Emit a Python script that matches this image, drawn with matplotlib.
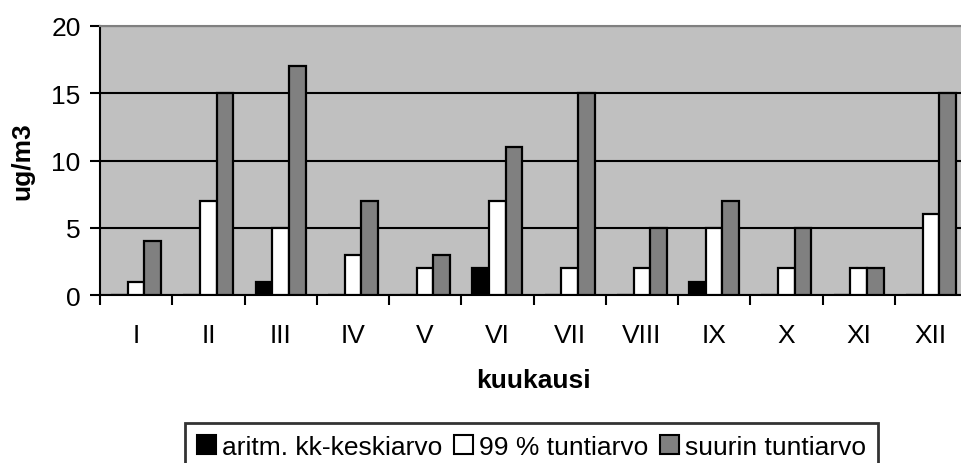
import matplotlib.pyplot as plt
import numpy as np

plt.rcParams["font.family"] = ["Liberation Sans", "DejaVu Sans"]

months = ["I", "II", "III", "IV", "V", "VI", "VII", "VIII", "IX", "X", "XI", "XII"]
kk_keskiarvo = [0, 0, 1, 0, 0, 2, 0, 0, 1, 0, 0, 0]
tunti_99 = [1, 7, 5, 3, 2, 7, 2, 2, 5, 2, 2, 6]
suurin = [4, 15, 17, 7, 3, 11, 15, 5, 7, 5, 2, 15]

W, H = 961, 464
FS = 19
fig = plt.figure(figsize=(W / 100, H / 100), dpi=100)
ax = fig.add_axes([100 / W, 168 / H, 867 / W, 269 / H])
ax.set_facecolor("#C0C0C0")

x = np.arange(len(months))
bw = 0.23
series = [
    (kk_keskiarvo, "black", "aritm. kk-keskiarvo"),
    (tunti_99, "white", "99 % tuntiarvo"),
    (suurin, "#808080", "suurin tuntiarvo"),
]
for i, (vals, col, lab) in enumerate(series):
    ax.bar(x + (i - 1) * bw, vals, bw, color=col, edgecolor="black",
           linewidth=1.6, label=lab, zorder=3)

ax.set_xlim(-0.5, len(months) - 0.5)
ax.set_ylim(0, 20)
ax.set_yticks([0, 5, 10, 15, 20])
ax.yaxis.grid(True, color="black", linewidth=1.5, zorder=1)
ax.set_axisbelow(True)
ax.set_xticks(x)
ax.set_xticklabels(months, fontsize=FS)
ax.set_xticks(np.arange(len(months) + 1) - 0.5, minor=True)
ax.tick_params(axis="x", which="major", length=0, pad=20)
ax.tick_params(axis="x", which="minor", length=7, width=1.5, direction="out")
ax.tick_params(axis="y", labelsize=FS, length=7, width=1.5, direction="out", pad=7)

for s in ["left", "bottom"]:
    ax.spines[s].set_linewidth(1.5)
ax.spines["top"].set_color("#808080")
ax.spines["top"].set_linewidth(1.5)
ax.spines["right"].set_visible(False)

ax.set_ylabel("ug/m3", fontsize=FS, fontweight="bold", labelpad=12)
ax.set_xlabel("kuukausi", fontsize=FS, fontweight="bold", labelpad=15)

leg = fig.legend(loc="upper left", bbox_to_anchor=(185 / W, 1 - 424 / H), ncol=3,
                 fontsize=FS, frameon=True, fancybox=False, edgecolor="black",
                 handlelength=0.72, handleheight=0.72, handletextpad=0.23,
                 columnspacing=0.45, borderpad=0.45, borderaxespad=0)
leg.get_frame().set_linewidth(2)
for h in leg.legend_handles:
    h.set_linewidth(1.5)

fig.savefig("out.png", dpi=100)
